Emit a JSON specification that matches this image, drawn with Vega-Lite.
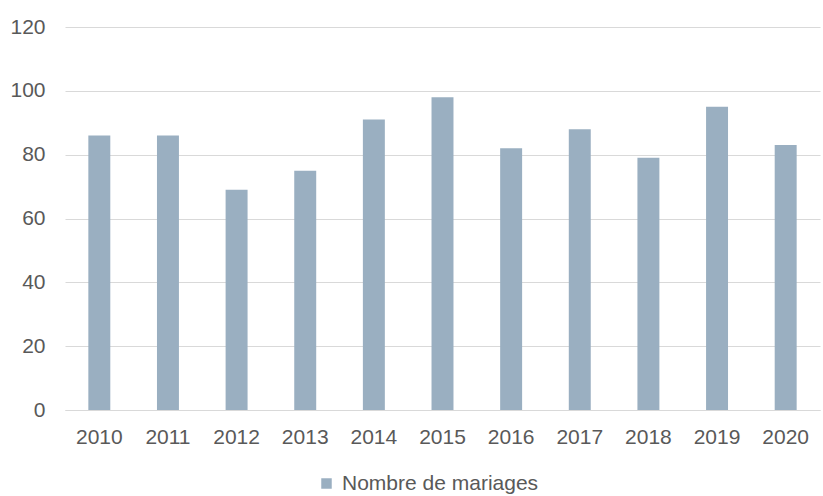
{
  "$schema": "https://vega.github.io/schema/vega-lite/v6.json",
  "autosize": {"type": "none"},
  "padding": {"left": 65, "top": 27, "right": 3, "bottom": 86},
  "width": 755,
  "height": 383,
  "background": "white",
  "data": {"values": [
    {"annee": "2010", "serie": "Nombre de mariages", "valeur": 86},
    {"annee": "2011", "serie": "Nombre de mariages", "valeur": 86},
    {"annee": "2012", "serie": "Nombre de mariages", "valeur": 69},
    {"annee": "2013", "serie": "Nombre de mariages", "valeur": 75},
    {"annee": "2014", "serie": "Nombre de mariages", "valeur": 91},
    {"annee": "2015", "serie": "Nombre de mariages", "valeur": 98},
    {"annee": "2016", "serie": "Nombre de mariages", "valeur": 82},
    {"annee": "2017", "serie": "Nombre de mariages", "valeur": 88},
    {"annee": "2018", "serie": "Nombre de mariages", "valeur": 79},
    {"annee": "2019", "serie": "Nombre de mariages", "valeur": 95},
    {"annee": "2020", "serie": "Nombre de mariages", "valeur": 83}
  ]},
  "mark": {"type": "bar"},
  "encoding": {
    "x": {
      "field": "annee", "type": "ordinal", "title": null,
      "scale": {"paddingInner": 0.68, "paddingOuter": 0.34},
      "axis": {"labelAngle": 0, "ticks": false, "domainColor": "#d9d9d9", "domainWidth": 1, "labelPadding": 16, "labelFont": "Liberation Sans", "labelFontSize": 21, "labelColor": "#595959"}
    },
    "y": {
      "field": "valeur", "type": "quantitative", "title": null,
      "scale": {"domain": [0, 120]},
      "axis": {"values": [0, 20, 40, 60, 80, 100, 120], "ticks": false, "domain": false, "gridColor": "#d9d9d9", "gridWidth": 1, "labelPadding": 20, "labelFont": "Liberation Sans", "labelFontSize": 21, "labelColor": "#595959"}
    },
    "color": {
      "field": "serie", "type": "nominal", "title": null,
      "scale": {"range": ["#9aafc1"]},
      "legend": {"orient": "none", "legendX": 251, "legendY": 446, "symbolType": "square", "symbolSize": 110, "symbolStrokeWidth": 0, "labelFont": "Liberation Sans", "labelFontSize": 21, "labelColor": "#595959", "labelOffset": 5, "labelLimit": 400}
    }
  },
  "config": {"view": {"stroke": null}}
}
